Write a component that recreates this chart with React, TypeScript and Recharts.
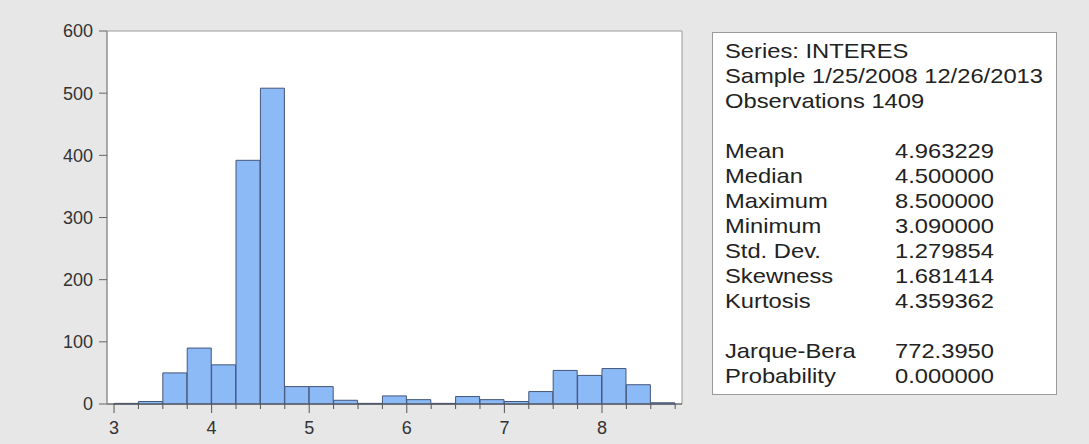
import { ComposedChart, Bar, XAxis, YAxis, CartesianGrid, ReferenceArea } from 'recharts';

// histogram of INTERES, bins of 0.25 starting at 3.0
const binStarts = [3, 3.25, 3.5, 3.75, 4, 4.25, 4.5, 4.75, 5, 5.25, 5.5, 5.75, 6, 6.25, 6.5, 6.75, 7, 7.25, 7.5, 7.75, 8, 8.25, 8.5];
const counts = [1, 4, 50, 90, 63, 392, 508, 28, 28, 6, 1, 13, 7, 1, 12, 7, 4, 20, 54, 46, 57, 31, 2];
const binWidth = 0.25;
const yTicks = [0, 100, 200, 300, 400, 500, 600];

const headerLines = ['Series: INTERES', 'Sample 1/25/2008 12/26/2013', 'Observations 1409'];
const statLabels = ['Mean', 'Median', 'Maximum', 'Minimum', 'Std. Dev.', 'Skewness', 'Kurtosis'];
const statValues = ['4.963229', '4.500000', '8.500000', '3.090000', '1.279854', '1.681414', '4.359362'];
const testLabels = ['Jarque-Bera', 'Probability'];
const testValues = ['772.3950', '0.000000'];

const data = binStarts.map((b, i) => ({ bin: String(b), mid: b + binWidth / 2, count: counts[i] }));
const edges = [...binStarts, binStarts[binStarts.length - 1] + binWidth];

// layout
const W = 1089;
const H = 444;
const plotLeft = 107;
const plotRight = 682;
const xAxisH = 40;
const axisY = H - xAxisH;
const xMin = 2.928;
const xMax = 8.82;
const pxPerUnit = (plotRight - plotLeft) / (xMax - xMin);
const padL = (binStarts[0] - xMin) * pxPerUnit;
const padR = (xMax - edges[edges.length - 1]) * pxPerUnit;

const font = '"Liberation Sans", Arial, sans-serif';

const BinTick = (props: any) => {
  const { x, payload } = props;
  const major = Number.isInteger(payload.value);
  return (
    <g>
      <line x1={x} y1={axisY} x2={x} y2={axisY + (major ? 9 : 5)} stroke="#555" />
      {major && (
        <text x={x} y={axisY + 30} textAnchor="middle" fontSize={18} fill="#333" fontFamily={font}>
          {payload.value}
        </text>
      )}
    </g>
  );
};

function StatRow({ label, value }: { label: string; value?: string }) {
  const span = (left: number, text: string) => (
    <span style={{ position: 'absolute', left, top: 0, transform: 'scaleX(1.13)', transformOrigin: 'left', whiteSpace: 'nowrap' }}>{text}</span>
  );
  return (
    <div style={{ position: 'relative', height: 25, lineHeight: '25px' }}>
      {span(12, label)}
      {value !== undefined && span(182, value)}
    </div>
  );
}

export default function App() {
  return (
    <div style={{ position: 'absolute', left: 0, top: 0, width: W, height: H, background: '#e7e7e7' }}>
      <ComposedChart width={W} height={H} data={data} barCategoryGap={0} margin={{ top: 31, right: W - plotRight, bottom: 0, left: 0 }}>
        <CartesianGrid fill="#ffffff" horizontal={false} vertical={false} xAxisId="num" />
        <XAxis
          xAxisId="num"
          dataKey="mid"
          type="number"
          domain={[xMin, xMax]}
          allowDataOverflow
          ticks={edges}
          interval={0}
          height={xAxisH}
          tickLine={false}
          tick={<BinTick />}
          axisLine={{ stroke: '#555' }}
        />
        <XAxis xAxisId="bins" dataKey="bin" type="category" hide height={0} padding={{ left: padL, right: padR }} />
        <YAxis
          domain={[0, 600]}
          ticks={yTicks}
          width={plotLeft}
          tickSize={8}
          tickMargin={6}
          axisLine={{ stroke: '#8a8a8a' }}
          tickLine={{ stroke: '#666' }}
          tick={{ fill: '#333', fontSize: 18, fontFamily: font }}
        />
        <ReferenceArea xAxisId="num" x1={xMin} x2={xMax} y1={0} y2={600} fill="none" stroke="#9a9a9a" />
        <Bar xAxisId="bins" dataKey="count" fill="#8cbaf6" stroke="#44557a" strokeWidth={1} isAnimationActive={false} />
      </ComposedChart>
      <div
        style={{
          position: 'absolute',
          left: 712,
          top: 32,
          width: 345,
          height: 363,
          border: '1px solid #9a9a9a',
          background: '#ffffff',
          boxSizing: 'border-box',
          paddingTop: 5,
          fontFamily: font,
          fontSize: 21,
          color: '#222',
        }}
      >
        {headerLines.map((l) => (
          <StatRow key={l} label={l} />
        ))}
        <StatRow label="" />
        {statLabels.map((l, i) => (
          <StatRow key={l} label={l} value={statValues[i]} />
        ))}
        <StatRow label="" />
        {testLabels.map((l, i) => (
          <StatRow key={l} label={l} value={testValues[i]} />
        ))}
      </div>
    </div>
  );
}
